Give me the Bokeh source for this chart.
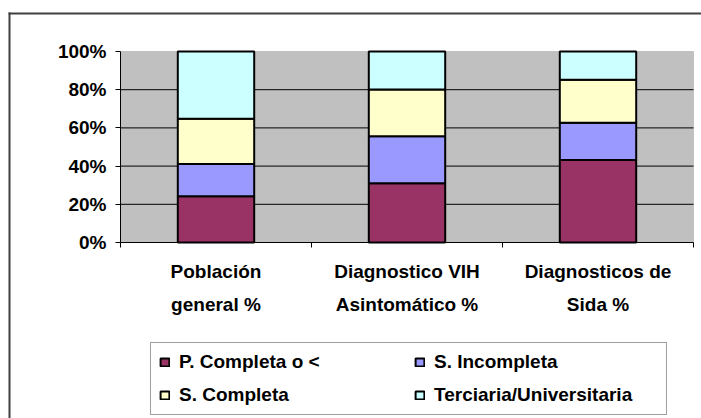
from bokeh.plotting import figure
from bokeh.models import (ColumnDataSource, FixedTicker, PrintfTickFormatter, Range1d,
                          Legend, LegendItem, LinearAxis, BoxAnnotation)
from bokeh.embed import file_html
from bokeh.resources import INLINE

# ---- data ----
categories = ["Población\ngeneral %", "Diagnostico VIH\nAsintomático %", "Diagnosticos de\nSida %"]
series = ["P. Completa o <", "S. Incompleta", "S. Completa", "Terciaria/Universitaria"]
p_completa = [24.2, 31.0, 43.2]
s_incompleta = [16.9, 24.6, 19.5]
s_completa = [23.7, 24.5, 22.5]
terciaria = [35.2, 19.9, 14.8]
colors = ["#993366", "#9999FF", "#FFFFCC", "#CCFFFF"]
y_ticks = [0, 20, 40, 60, 80, 100]

FONT = "Liberation Sans"

# ---- layout (pixels in the 701x418 canvas) ----
W, H = 701, 418
PL, PR, PT, PB = 120, 693, 51, 242          # plot-area edges
n = len(categories)
ppx = (PR - PL) / n
ppy = (PB - PT) / (y_ticks[-1] - y_ticks[0])
def to_x(px): return (px - PL) / ppx
def to_y(py): return y_ticks[0] + (PB - py) / ppy

x_pos = [i + 0.5 for i in range(n)]
boundaries = list(range(n + 1))
keys = ["p_completa", "s_incompleta", "s_completa", "terciaria"]
src = ColumnDataSource(dict(x=x_pos, p_completa=p_completa, s_incompleta=s_incompleta,
                            s_completa=s_completa, terciaria=terciaria))
grid_src = ColumnDataSource(dict(y=y_ticks[1:-1]))

p = figure(width=W, height=H, x_range=Range1d(to_x(0), to_x(W)), y_range=Range1d(to_y(H), to_y(0)),
           output_backend="svg", toolbar_location=None, title=None,
           x_axis_type=None, y_axis_type=None,
           min_border=0, min_border_left=0, min_border_right=0, min_border_top=0, min_border_bottom=0)
p.background_fill_color = "white"
p.border_fill_color = "white"
p.outline_line_color = None
p.xgrid.visible = False
p.ygrid.visible = False

# outer chart border (only left and top edges fall inside the picture)
p.add_layout(BoxAnnotation(left=to_x(8), right=to_x(10), top=to_y(12), bottom=to_y(H),
                           fill_color="#404040", fill_alpha=1.0, line_alpha=0, line_width=0,
                           level="image"))
p.add_layout(BoxAnnotation(left=to_x(8), right=to_x(W), top=to_y(12), bottom=to_y(14),
                           fill_color="#404040", fill_alpha=1.0, line_alpha=0, line_width=0,
                           level="image"))

# grey plot area
area = BoxAnnotation(left=0, right=n, bottom=y_ticks[0], top=y_ticks[-1],
                     fill_color="#C0C0C0", fill_alpha=1.0, line_color="#808080", line_width=1,
                     level="image")
p.add_layout(area)

# gridlines
p.segment(x0=0, x1=n, y0="y", y1="y", source=grid_src, line_color="black", line_width=1)

# stacked bars
renderers = p.vbar_stack(keys, x="x", width=0.4, source=src, fill_color=colors,
                         line_color="black", line_width=2)

# y axis
ya = LinearAxis(ticker=FixedTicker(ticks=y_ticks), formatter=PrintfTickFormatter(format="%d%%"),
                fixed_location=0, bounds=(y_ticks[0], y_ticks[-1]))
ya.major_tick_out = 5
ya.major_tick_in = 0
ya.minor_tick_out = 0
ya.minor_tick_in = 0
ya.axis_line_color = "black"
ya.major_tick_line_color = "black"
ya.major_label_text_font = FONT
ya.major_label_text_font_style = "bold"
ya.major_label_text_font_size = "19px"
ya.major_label_text_color = "black"
ya.major_label_standoff = 9
p.add_layout(ya, "left")

# x axis
xa = LinearAxis(ticker=FixedTicker(ticks=x_pos, minor_ticks=boundaries),
                fixed_location=y_ticks[0], bounds=(0, n))
xa.major_label_overrides = {x: c for x, c in zip(x_pos, categories)}
xa.major_tick_out = 0
xa.major_tick_in = 0
xa.minor_tick_out = 5
xa.minor_tick_in = 0
xa.minor_tick_line_color = "black"
xa.axis_line_color = "black"
xa.major_label_text_font = FONT
xa.major_label_text_font_style = "bold"
xa.major_label_text_font_size = "19px"
xa.major_label_text_color = "black"
xa.major_label_text_line_height = 1.6
xa.major_label_standoff = 13
p.add_layout(xa, "below")

# legend (location = left / bottom offset in canvas pixels)
legend = Legend(items=[LegendItem(label=s, renderers=[r]) for s, r in zip(series, renderers)],
                location=(150, 3), orientation="horizontal", ncols=2,
                label_text_font=FONT, label_text_font_style="bold", label_text_font_size="19px",
                label_text_color="black", glyph_width=11, glyph_height=10,
                label_height=22, label_width=224, label_standoff=9, spacing=11, padding=8,
                border_line_color="#404040", border_line_width=1,
                background_fill_color="white", background_fill_alpha=1.0, margin=0)
p.add_layout(legend, "center")

open("out.html", "w").write(file_html(p, INLINE))
